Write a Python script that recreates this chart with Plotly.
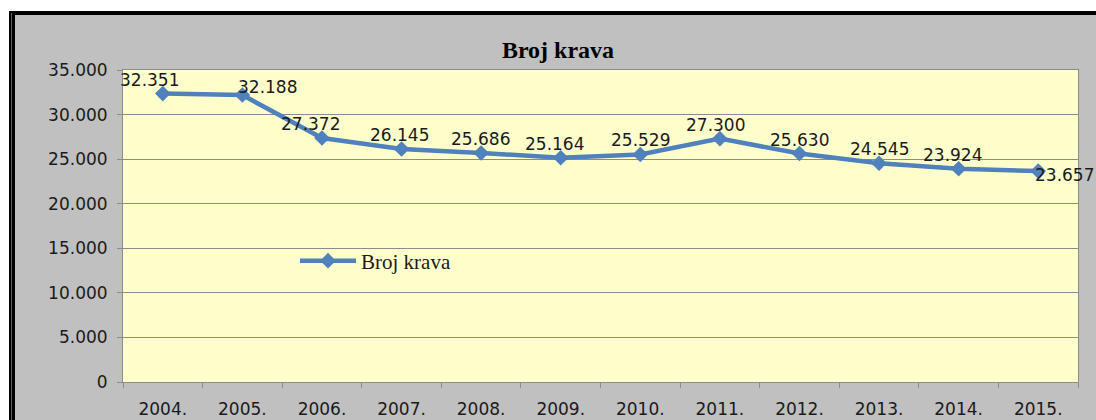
import plotly.graph_objects as go

# Number of cows per year
years = ["2004.", "2005.", "2006.", "2007.", "2008.", "2009.",
         "2010.", "2011.", "2012.", "2013.", "2014.", "2015."]
cows = [32351, 32188, 27372, 26145, 25686, 25164,
        25529, 27300, 25630, 24545, 23924, 23657]

y_ticks = [0, 5000, 10000, 15000, 20000, 25000, 30000, 35000]

W, H = 1096, 420
L, R, T, B = 123, 18, 70, 38
PW, PH = W - L - R, H - T - B


def xp(px):
    """pixel column -> paper x"""
    return (px - L) / PW


def yp(py):
    """pixel row -> paper y"""
    return 1 - (py - T) / PH


BLUE = "#4F81BD"
GRID = "#8C8C8C"
SANS = "DejaVu Sans"
SERIF = "Liberation Serif"
INK = "#1a1a1a"

fig = go.Figure()

# the series: line with diamond markers
fig.add_trace(
    go.Scatter(
        x=years,
        y=cows,
        name="Broj krava",
        mode="lines+markers",
        line=dict(color=BLUE, width=4.5),
        marker=dict(symbol="diamond", size=12, color=BLUE),
    )
)

# value labels: mostly centred above the point, nudged like hand-placed labels
label_style = [
    # (xanchor, yanchor, xshift, yshift)
    ("center", "bottom", -13, 2),
    ("left", "bottom", -6, -4),
    ("center", "bottom", -11, 2),
    ("center", "bottom", -2, 2),
    ("center", "bottom", -1, 2),
    ("center", "bottom", -6, 2),
    ("center", "bottom", 0, 2),
    ("center", "bottom", -4, 2),
    ("center", "bottom", 0, 2),
    ("center", "bottom", 0, 2),
    ("center", "bottom", -6, 2),
    ("left", "middle", -5, -4),
]

annotations = []
# category positions are given by index so "2004." is not read as a number
for i, (v, (xa, ya, dx, dy)) in enumerate(zip(cows, label_style)):
    annotations.append(dict(
        x=i, y=v, xref="x", yref="y",
        text=f"{v:,}".replace(",", "."),
        showarrow=False,
        xanchor=xa, yanchor=ya,
        xshift=dx, yshift=dy,
        font=dict(family=SANS, size=17, color=INK),
    ))

shapes = [
    # white strip above the chart frame and to its left
    dict(type="rect", xref="paper", yref="paper", x0=xp(0), x1=xp(W), y0=yp(11), y1=yp(0),
         fillcolor="white", line_width=0, layer="above"),
    dict(type="rect", xref="paper", yref="paper", x0=xp(0), x1=xp(9), y0=yp(H), y1=yp(0),
         fillcolor="white", line_width=0, layer="above"),
    # black frame edges
    dict(type="rect", xref="paper", yref="paper", x0=xp(9), x1=xp(W), y0=yp(15), y1=yp(11),
         fillcolor="black", line_width=0, layer="above"),
    dict(type="rect", xref="paper", yref="paper", x0=xp(9), x1=xp(15), y0=yp(H), y1=yp(11),
         fillcolor="black", line_width=0, layer="above"),
    dict(type="line", xref="paper", yref="paper", x0=xp(11.5), x1=xp(11.5), y0=yp(H), y1=yp(13),
         line=dict(color="#606060", width=1), layer="above"),
]

fig.update_layout(
    width=W,
    height=H,
    margin=dict(l=L, r=R, t=T, b=B, autoexpand=False),
    paper_bgcolor="#C0C0C0",
    plot_bgcolor="#FFFFCC",
    separators=",.",
    shapes=shapes,
    annotations=annotations,
    title=dict(
        text="<b>Broj krava</b>",
        x=558 / W, xanchor="center",
        y=1 - 50 / H, yanchor="middle",
        font=dict(family=SERIF, size=24, color="black"),
    ),
    showlegend=True,
    legend=dict(
        x=xp(295), y=yp(261), xanchor="left", yanchor="middle",
        bgcolor="rgba(0,0,0,0)",
        itemwidth=56,
        font=dict(family=SERIF, size=21, color=INK),
    ),
    xaxis=dict(
        type="category",
        range=[-0.5, len(years) - 0.5],
        automargin=False,
        tickson="boundaries",
        ticks="outside",
        ticklen=5,
        tickcolor=GRID,
        showline=True,
        linecolor=GRID,
        mirror=True,
        showgrid=False,
        ticklabelstandoff=12,
        tickfont=dict(family=SANS, size=17, color=INK),
    ),
    yaxis=dict(
        automargin=False,
        range=[0, 35000],
        tickvals=y_ticks,
        tickformat=",",
        ticks="outside",
        ticklen=5,
        tickcolor=GRID,
        showline=True,
        linecolor=GRID,
        mirror=True,
        gridcolor=GRID,
        zeroline=False,
        ticklabelstandoff=6,
        tickfont=dict(family=SANS, size=17, color=INK),
    ),
)

fig.write_html("out.html")
